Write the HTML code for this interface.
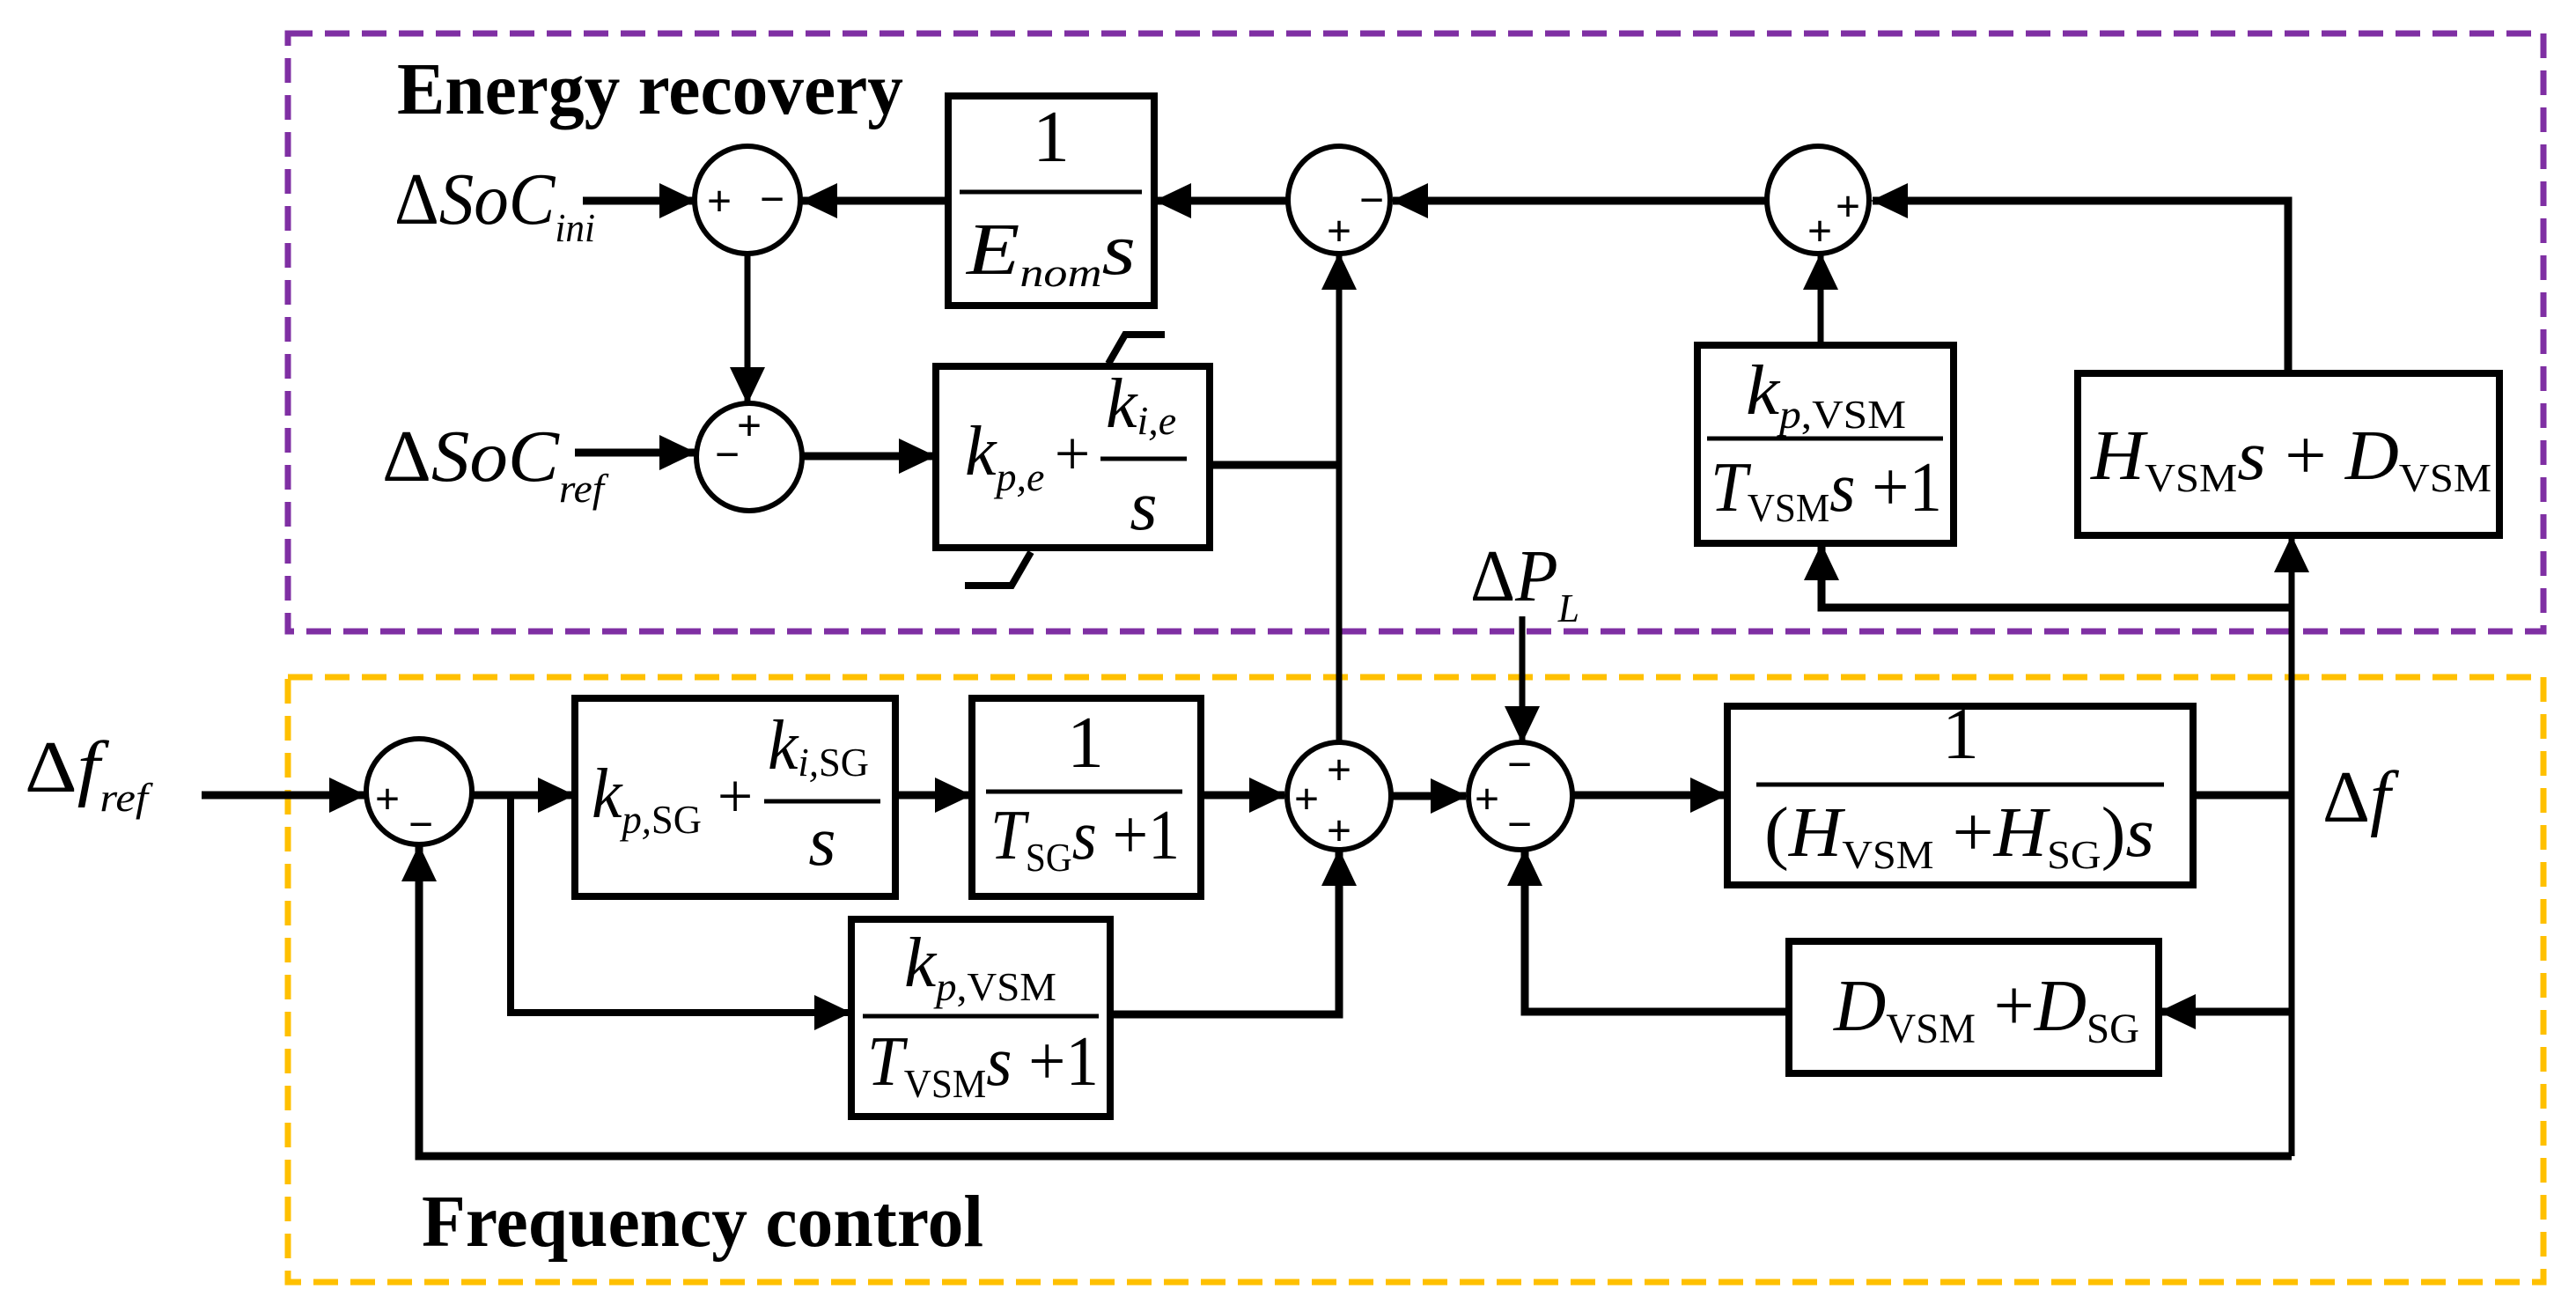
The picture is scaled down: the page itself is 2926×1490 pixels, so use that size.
<!DOCTYPE html>
<html><head><meta charset="utf-8"><style>
html,body{margin:0;padding:0;background:#fff}
svg{display:block}
text{font-family:"Liberation Serif",serif;fill:#000}
.i{font-style:italic}
</style></head><body>
<svg width="2926" height="1490" viewBox="0 0 2926 1490" xmlns="http://www.w3.org/2000/svg">
<defs>
<marker id="a" markerWidth="42" markerHeight="40" refX="40" refY="20" orient="auto" markerUnits="userSpaceOnUse">
<path d="M0,0 L42,20 L0,40 Z" fill="#000"/></marker>
</defs>
<rect x="327" y="38" width="2562" height="679" fill="none" stroke="#7F2FA3" stroke-width="7" stroke-dasharray="28,14"/>
<rect x="327" y="769" width="2562" height="687" fill="none" stroke="#FFC000" stroke-width="7" stroke-dasharray="28,14"/>

<text x="451" y="129" font-size="84" font-weight="bold" textLength="575" lengthAdjust="spacingAndGlyphs">Energy recovery</text>
<text x="479" y="1415" font-size="84" font-weight="bold" textLength="638" lengthAdjust="spacingAndGlyphs">Frequency control</text>

<g fill="none" stroke="#000" stroke-width="9">
<line x1="662" y1="228" x2="789" y2="228" marker-end="url(#a)"/>
<line x1="1077" y1="228" x2="911" y2="228" marker-end="url(#a)"/>
<line x1="1461" y1="228" x2="1313" y2="228" marker-end="url(#a)"/>
<line x1="2005" y1="228" x2="1582" y2="228" marker-end="url(#a)"/>
<polyline points="2599,423 2599,228 2127,228" marker-end="url(#a)"/>
<line x1="849" y1="288" x2="849" y2="457" stroke-width="7" marker-end="url(#a)"/>
<line x1="653" y1="514" x2="789" y2="514" marker-end="url(#a)"/>
<line x1="911" y1="518" x2="1061" y2="518" marker-end="url(#a)"/>
<line x1="1373" y1="528" x2="1521" y2="528"/>
<line x1="1521" y1="842" x2="1521" y2="289" stroke-width="7" marker-end="url(#a)"/>
<line x1="2068" y1="392" x2="2068" y2="289" stroke-width="7" marker-end="url(#a)"/>
<polyline points="2603,690 2069,690 2069,619" marker-end="url(#a)"/>
<line x1="2603" y1="1313" x2="2603" y2="610" stroke-width="7" marker-end="url(#a)"/>
<polyline points="1259,413 1278,380 1323,380" stroke-width="8"/>
<polyline points="1171,627 1149,665 1096,665" stroke-width="8"/>
<line x1="229" y1="903" x2="414" y2="903" marker-end="url(#a)"/>
<line x1="536" y1="903" x2="651" y2="903" marker-end="url(#a)"/>
<polyline points="580,903 580,1150 965,1150" stroke-width="8" marker-end="url(#a)"/>
<line x1="1017" y1="903" x2="1102" y2="903" marker-end="url(#a)"/>
<line x1="1364" y1="903" x2="1459" y2="903" marker-end="url(#a)"/>
<polyline points="1261,1152 1521,1152 1521,966" marker-end="url(#a)"/>
<line x1="1729" y1="700" x2="1729" y2="842" stroke-width="7" marker-end="url(#a)"/>
<line x1="1581" y1="904" x2="1665" y2="904" marker-end="url(#a)"/>
<line x1="1787" y1="903" x2="1960" y2="903" marker-end="url(#a)"/>
<line x1="2491" y1="903" x2="2603" y2="903"/>
<line x1="2603" y1="1149" x2="2454" y2="1149" marker-end="url(#a)"/>
<polyline points="2032,1149 1732,1149 1732,966" marker-end="url(#a)"/>
<polyline points="2603,1313 476,1313 476,961" marker-end="url(#a)"/>
</g>

<g fill="#fff" stroke="#000" stroke-width="6">
<ellipse cx="849" cy="227" rx="60" ry="61"/>
<ellipse cx="851" cy="519" rx="60" ry="61"/>
<ellipse cx="1521" cy="227" rx="58" ry="61"/>
<ellipse cx="2065" cy="227" rx="58" ry="61"/>
<ellipse cx="476" cy="899" rx="60" ry="60"/>
<ellipse cx="1521" cy="904" rx="59" ry="61"/>
<ellipse cx="1727" cy="904" rx="59" ry="61"/>
</g>
<g fill="#fff" stroke="#000" stroke-width="8">
<rect x="1077" y="109" width="234" height="238"/>
<rect x="1063" y="416" width="311" height="206"/>
<rect x="1928" y="392" width="291" height="225"/>
<rect x="2360" y="424" width="479" height="184"/>
<rect x="653" y="793" width="364" height="225"/>
<rect x="1104" y="793" width="260" height="225"/>
<rect x="967" y="1044" width="294" height="224"/>
<rect x="1962" y="802" width="529" height="203"/>
<rect x="2032" y="1069" width="420" height="150"/>
</g>
<g stroke="#000" stroke-width="5">
<line x1="1090" y1="218" x2="1297" y2="218"/>
<line x1="1250" y1="521" x2="1348" y2="521"/>
<line x1="1939" y1="498" x2="2207" y2="498"/>
<line x1="868" y1="910" x2="1000" y2="910"/>
<line x1="1120" y1="899" x2="1343" y2="899"/>
<line x1="980" y1="1154" x2="1248" y2="1154"/>
<line x1="1995" y1="891" x2="2458" y2="891"/>
</g>

<g font-family="Liberation Sans" font-size="50" text-anchor="middle" font-weight="bold">
<text x="817" y="245">+</text><text x="877" y="243">−</text>
<text x="851" y="500">+</text><text x="826" y="533">−</text>
<text x="1558" y="244">−</text><text x="1521" y="279">+</text>
<text x="2099" y="251">+</text><text x="2067" y="279">+</text>
<text x="440" y="924">+</text><text x="478" y="953">−</text>
<text x="1521" y="891">+</text><text x="1484" y="924">+</text><text x="1521" y="960">+</text>
<text x="1726" y="885">−</text><text x="1689" y="924">+</text><text x="1726" y="953">−</text>
</g>

<text x="448" y="254" font-size="84" textLength="228" lengthAdjust="spacingAndGlyphs">Δ<tspan class="i">SoC</tspan><tspan class="i" font-size="46" dy="20">ini</tspan></text>
<text x="434" y="546" font-size="84" textLength="252" lengthAdjust="spacingAndGlyphs">Δ<tspan class="i">SoC</tspan><tspan class="i" font-size="46" dy="24">ref</tspan></text>
<text x="28" y="899" font-size="84" textLength="140" lengthAdjust="spacingAndGlyphs">Δ<tspan class="i">f</tspan><tspan class="i" font-size="46" dy="22">ref</tspan></text>
<text x="1670" y="682" font-size="84" textLength="124" lengthAdjust="spacingAndGlyphs">Δ<tspan class="i">P</tspan><tspan class="i" font-size="46" dy="24">L</tspan></text>
<text x="2638" y="933" font-size="84">Δ<tspan class="i">f</tspan></text>

<text x="1194" y="183" font-size="84" text-anchor="middle">1</text>
<text x="1098" y="311" font-size="84" class="i" textLength="192" lengthAdjust="spacingAndGlyphs">E<tspan font-size="46" dy="14">nom</tspan><tspan dy="-14">s</tspan></text>

<text x="1096" y="539" font-size="80" class="i">k<tspan font-size="46" dy="18">p,e</tspan></text>
<text x="1218" y="539" font-size="72" text-anchor="middle">+</text>
<text x="1256" y="485" font-size="80" class="i">k<tspan font-size="46" dy="8">i,e</tspan></text>
<text x="1299" y="601" font-size="80" class="i" text-anchor="middle">s</text>

<text x="1983" y="470" font-size="80" textLength="182" lengthAdjust="spacingAndGlyphs"><tspan class="i">k</tspan><tspan font-size="46" dy="16"><tspan class="i">p</tspan>,VSM</tspan></text>
<text x="1943" y="580" font-size="80" textLength="263" lengthAdjust="spacingAndGlyphs"><tspan class="i">T</tspan><tspan font-size="46" dy="12">VSM</tspan><tspan class="i" dy="-12">s</tspan> +1</text>

<text x="2375" y="544" font-size="80" textLength="455" lengthAdjust="spacingAndGlyphs"><tspan class="i">H</tspan><tspan font-size="46" dy="14">VSM</tspan><tspan class="i" dy="-14">s</tspan> + <tspan class="i">D</tspan><tspan font-size="46" dy="14">VSM</tspan></text>

<text x="672" y="928" font-size="80" class="i" textLength="125" lengthAdjust="spacingAndGlyphs">k<tspan font-size="46" dy="18">p,</tspan><tspan font-size="46" font-style="normal">SG</tspan></text>
<text x="835" y="928" font-size="72" text-anchor="middle">+</text>
<text x="872" y="873" font-size="80" class="i" textLength="115" lengthAdjust="spacingAndGlyphs">k<tspan font-size="46" dy="8">i,</tspan><tspan font-size="46" font-style="normal">SG</tspan></text>
<text x="934" y="982" font-size="80" class="i" text-anchor="middle">s</text>

<text x="1233" y="871" font-size="84" text-anchor="middle">1</text>
<text x="1125" y="975" font-size="80" textLength="215" lengthAdjust="spacingAndGlyphs"><tspan class="i">T</tspan><tspan font-size="46" dy="14">SG</tspan><tspan class="i" dy="-14">s</tspan> +1</text>

<text x="1027" y="1120" font-size="80" textLength="173" lengthAdjust="spacingAndGlyphs"><tspan class="i">k</tspan><tspan font-size="46" dy="16"><tspan class="i">p</tspan>,VSM</tspan></text>
<text x="985" y="1232" font-size="80" textLength="263" lengthAdjust="spacingAndGlyphs"><tspan class="i">T</tspan><tspan font-size="46" dy="14">VSM</tspan><tspan class="i" dy="-14">s</tspan> +1</text>

<text x="2227" y="861" font-size="84" text-anchor="middle">1</text>
<text x="2004" y="972" font-size="80" textLength="443" lengthAdjust="spacingAndGlyphs">(<tspan class="i">H</tspan><tspan font-size="46" dy="14">VSM</tspan><tspan dy="-14"> +</tspan><tspan class="i">H</tspan><tspan font-size="46" dy="14">SG</tspan><tspan dy="-14">)</tspan><tspan class="i">s</tspan></text>

<text x="2083" y="1170" font-size="84" textLength="347" lengthAdjust="spacingAndGlyphs"><tspan class="i">D</tspan><tspan font-size="48" dy="14">VSM</tspan><tspan dy="-14"> +</tspan><tspan class="i">D</tspan><tspan font-size="48" dy="14">SG</tspan></text>
</svg>
</body></html>
